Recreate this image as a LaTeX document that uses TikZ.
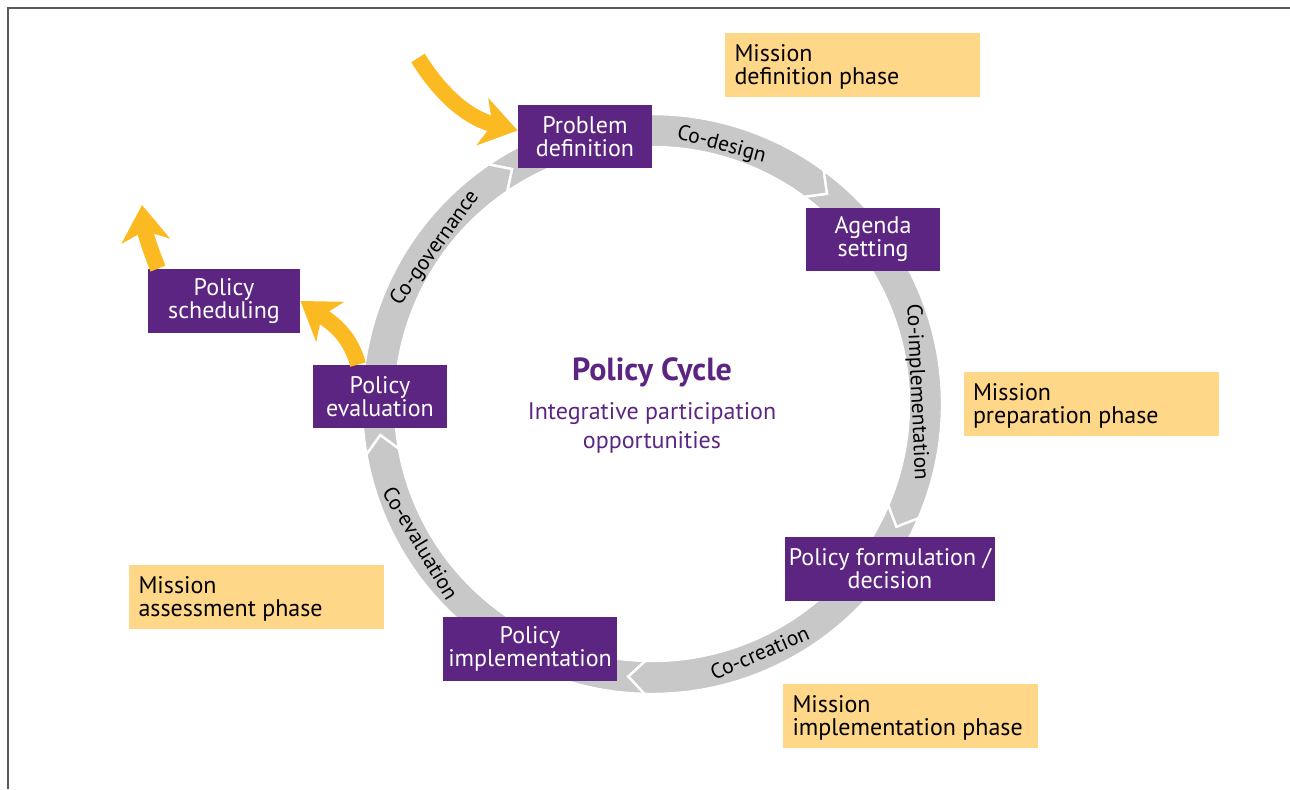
\documentclass[tikz,border=0pt]{standalone}
\usepackage{fontspec}
\setmainfont{PT Sans}
\usetikzlibrary{arrows.meta, positioning}

\definecolor{cyclepurple}{RGB}{92,37,130}
\definecolor{ringgray}{RGB}{200,200,200}
\definecolor{arrowyellow}{RGB}{251,186,33}
\definecolor{missionfill}{RGB}{255,215,137}

\begin{document}
\begin{tikzpicture}[
    x=0.5pt, y=0.5pt,
    stage/.style={fill=cyclepurple, text=white, align=center, inner sep=0pt, minimum width=67pt, minimum height=31.5pt, font=\fontsize{12}{11.5}\selectfont},
    mission/.style={fill=missionfill, align=flush left, inner xsep=4.75pt, inner ysep=0pt, text width=118pt, minimum height=32pt, text depth=11.7pt, font=\fontsize{12}{11.5}\selectfont},
    ringseg/.style={fill=ringgray, draw=white, line width=1.2pt},
    ringlabel/.style={font=\fontsize{10.7}{12}\selectfont},
    yarrow/.style={draw=arrowyellow, line width=8pt, -{Stealth[length=18pt, width=24pt, inset=5pt]}},
    frame/.style={draw=black!65, line width=0.8pt}
]
\useasboundingbox (0,0) rectangle (1290,789);
\draw[frame] (8,0) -- (8,781) -- (1290,781);

% Ring
\begin{scope}[shift={(652,385)}]
  \foreach \a/\b in {124.3/53.7, 53.7/-23.2, -23.2/-91.5, -91.5/-170, 190/124.3}
    \path[ringseg] (\a:290) arc[start angle=\a, end angle=\b, radius=290]
      -- ({\b-3.5}:273.5) -- (\b:257) arc[start angle=\b, end angle=\a, radius=257]
      -- ({\a-3.5}:273.5) -- cycle;
  \node[ringlabel, rotate=-15] (lbdesign) at (75:268) {Co-design};
  \node[ringlabel, rotate=-87.4] (lbimpl) at (2.6:265) {Co-implementation};
  \node[ringlabel, rotate=23.4] (lbcreat) at (-66.6:271) {Co-creation};
  \node[ringlabel, rotate=-59] (lbeval) at (211:270) {Co-evaluation};
  \node[ringlabel, rotate=54.3] (lbgov) at (144.3:267) {Co-governance};
\end{scope}

% Nodes
\node[stage] (prob) at (585,652.5) {Problem\\definition};
\node[stage] (agenda) at (873,549.5) {Agenda\\setting};
\node[stage, minimum width=105pt, minimum height=32pt] (formul) at (890,220) {Policy formulation /\\decision};
\node[stage, minimum width=87pt, minimum height=32pt] (impl) at (530,140) {Policy\\implementation};
\node[stage] (eval) at (380,392.5) {Policy\\evaluation};
\node[stage, minimum width=76pt, minimum height=32pt] (sched) at (224,488) {Policy\\scheduling};

\node[text=cyclepurple, font=\bfseries\fontsize{16}{18}\selectfont] (title) at (652,417) {Policy Cycle};
\node[text=cyclepurple, align=center, font=\fontsize{12}{14.5}\selectfont] (subtitle) at (652,361.5) {Integrative participation\\opportunities};

\node[mission] (mdef) at (852.5,724) {Mission\\definition phase};
\node[mission] (mprep) at (1091,385) {Mission\\preparation phase};
\node[mission] (massess) at (256.5,192) {Mission\\assessment phase};
\node[mission] (mimpl) at (910.5,73) {Mission\\implementation phase};

% Arrows
\coordinate (feed) at (418,731);
\coordinate (exit) at (142,584);
\draw[yarrow] (feed) to[out=-58, in=166] ([yshift=3pt]prob.west);
\draw[yarrow] ([xshift=-11pt]eval.north) to[out=105, in=-35] (sched.east);
\draw[yarrow] ([xshift=-33pt]sched.north) to[out=112, in=-84] (exit);

\end{tikzpicture}
\end{document}
